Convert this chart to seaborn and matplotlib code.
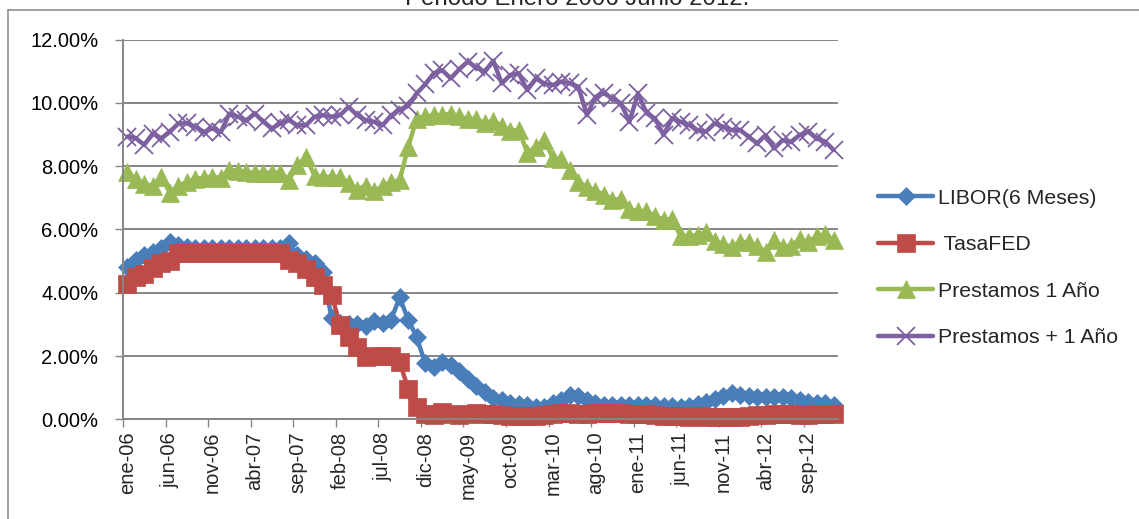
import numpy as np
import pandas as pd
import matplotlib
matplotlib.use("Agg")
import matplotlib.pyplot as plt
from matplotlib.lines import Line2D
from matplotlib.ticker import FixedLocator, FuncFormatter
import seaborn as sns

# Monthly rates in percent, ene-06 .. dic-12 (84 months)
libor_6m = [
    4.82, 5.03, 5.19, 5.30, 5.40, 5.60, 5.52, 5.45, 5.42, 5.42, 5.40, 5.40,
    5.42, 5.40, 5.40, 5.42, 5.42, 5.42, 5.42, 5.57, 5.20, 5.05, 4.95, 4.65,
    3.20, 3.05, 3.00, 3.00, 2.95, 3.12, 3.05, 3.15, 3.85, 3.15, 2.60, 1.77,
    1.65, 1.80, 1.72, 1.52, 1.26, 1.06, 0.85, 0.68, 0.60, 0.52, 0.48, 0.45,
    0.40, 0.40, 0.50, 0.62, 0.76, 0.75, 0.62, 0.50, 0.46, 0.46, 0.46, 0.46,
    0.46, 0.46, 0.44, 0.42, 0.41, 0.40, 0.43, 0.48, 0.55, 0.64, 0.74, 0.82,
    0.77, 0.74, 0.72, 0.72, 0.72, 0.72, 0.66, 0.60, 0.54, 0.50, 0.52, 0.45,
]
tasa_fed = [
    4.29, 4.49, 4.59, 4.79, 4.94, 4.99, 5.24, 5.25, 5.25, 5.25, 5.25, 5.24,
    5.25, 5.26, 5.26, 5.25, 5.25, 5.25, 5.26, 5.02, 4.94, 4.76, 4.49, 4.24,
    3.94, 2.98, 2.61, 2.28, 1.98, 2.00, 2.01, 2.00, 1.81, 0.97, 0.39, 0.16,
    0.15, 0.22, 0.18, 0.15, 0.18, 0.21, 0.16, 0.16, 0.15, 0.12, 0.12, 0.12,
    0.11, 0.13, 0.16, 0.20, 0.20, 0.18, 0.18, 0.19, 0.19, 0.19, 0.19, 0.18,
    0.17, 0.16, 0.14, 0.10, 0.09, 0.09, 0.07, 0.10, 0.08, 0.07, 0.08, 0.07,
    0.08, 0.10, 0.13, 0.14, 0.16, 0.16, 0.16, 0.13, 0.14, 0.16, 0.16, 0.16,
]
prestamos_1 = [
    7.81, 7.58, 7.45, 7.36, 7.66, 7.16, 7.38, 7.50, 7.60, 7.63, 7.66, 7.63,
    7.89, 7.84, 7.81, 7.79, 7.79, 7.79, 7.79, 7.57, 8.02, 8.28, 7.70, 7.66,
    7.66, 7.66, 7.47, 7.26, 7.38, 7.20, 7.37, 7.50, 7.55, 8.60, 9.50, 9.57,
    9.60, 9.60, 9.66, 9.57, 9.49, 9.49, 9.35, 9.44, 9.26, 9.10, 9.15, 8.42,
    8.61, 8.82, 8.26, 8.22, 7.89, 7.50, 7.34, 7.22, 7.10, 6.94, 6.96, 6.63,
    6.58, 6.58, 6.42, 6.30, 6.33, 5.79, 5.79, 5.82, 5.91, 5.63, 5.54, 5.44,
    5.60, 5.60, 5.49, 5.28, 5.66, 5.44, 5.49, 5.70, 5.61, 5.79, 5.84, 5.66,
]
prestamos_mas_1 = [
    8.93, 8.88, 8.67, 9.03, 8.88, 9.08, 9.35, 9.35, 9.24, 9.08, 9.19, 9.08,
    9.66, 9.56, 9.45, 9.66, 9.40, 9.19, 9.35, 9.45, 9.29, 9.29, 9.56, 9.61,
    9.56, 9.61, 9.87, 9.61, 9.45, 9.40, 9.29, 9.60, 9.78, 9.90, 10.30, 10.58,
    10.93, 11.03, 10.77, 11.06, 11.30, 11.12, 10.98, 11.33, 10.61, 10.88, 10.93, 10.40,
    10.77, 10.61, 10.56, 10.67, 10.61, 10.51, 9.61, 10.19, 10.30, 10.14, 9.98, 9.40,
    10.30, 9.67, 9.51, 8.98, 9.51, 9.40, 9.30, 9.14, 9.09, 9.35, 9.24, 9.14,
    9.14, 8.93, 8.72, 8.98, 8.56, 8.82, 8.77, 8.98, 9.09, 8.88, 8.77, 8.51,
]
tick_labels = ["ene-06", "jun-06", "nov-06", "abr-07", "sep-07", "feb-08",
               "jul-08", "dic-08", "may-09", "oct-09", "mar-10", "ago-10",
               "ene-11", "jun-11", "nov-11", "abr-12", "sep-12"]
series_names = ["LIBOR(6 Meses)", " TasaFED", "Prestamos 1 Año", "Prestamos + 1 Año"]
title_text = "Periodo Enero 2006 Junio 2012."

month_idx = np.arange(len(libor_6m))
df = pd.DataFrame({
    "mes": month_idx,
    series_names[0]: libor_6m,
    series_names[1]: tasa_fed,
    series_names[2]: prestamos_1,
    series_names[3]: prestamos_mas_1,
})

sns.set_style("white")
plt.rcParams["font.family"] = ["Liberation Sans", "DejaVu Sans"]

W, H = 1139, 519
fig = plt.figure(figsize=(W / 100, H / 100), dpi=100)
ax = fig.add_axes([123 / W, (H - 419.3) / H, 715 / W, (419.3 - 39.5) / H])

grey = "#868686"
styles = [
    dict(color="#4A7EBB", marker="D", markersize=9.2, markeredgewidth=0.5),
    dict(color="#BE4B48", marker="s", markersize=13.0, markeredgewidth=0.5),
    dict(color="#98B954", marker="^", markersize=13.5, markeredgewidth=0.5),
    dict(color="#7D60A0", marker="x", markersize=13.5, markeredgewidth=1.3),
]
for name, st in zip(series_names, styles):
    sns.lineplot(data=df, x="mes", y=name, ax=ax, label=name,
                 linewidth=3.2, color=st["color"], marker=st["marker"],
                 markersize=st["markersize"], markeredgewidth=st["markeredgewidth"],
                 markeredgecolor=st["color"], markerfacecolor=st["color"],
                 clip_on=False)

ax.set_xlim(-0.5, len(month_idx) - 0.5)
ax.set_ylim(0, 12)
ax.set_xlabel("")
ax.set_ylabel("")

# y axis: percentage labels and horizontal gridlines
ax.set_yticks(np.arange(0, 13, 2))
ax.yaxis.set_major_formatter(FuncFormatter(lambda v, p: f"{v:.2f}%"))
ax.yaxis.grid(True, color=grey, linewidth=1.4)
ax.xaxis.grid(False)
ax.tick_params(axis="y", direction="out", length=5.8, width=1.0, color=grey,
               pad=12, labelsize=14.5, labelcolor="black", left=True)

# x axis: labels every 5 months, tick marks on the category boundaries
ax.set_xticks(np.arange(0, len(month_idx) - 3, 5))
ax.set_xticklabels(tick_labels, rotation=90)
ax.xaxis.set_minor_locator(FixedLocator(np.arange(-0.5, len(month_idx) - 3, 5)))
ax.tick_params(axis="x", which="major", length=0, pad=9, labelsize=14.5)
ax.tick_params(axis="x", which="minor", direction="out", length=5.8, width=1.0,
               color=grey, bottom=True)

for side in ["top", "right"]:
    ax.spines[side].set_visible(False)
for side in ["left", "bottom"]:
    ax.spines[side].set_color(grey)
    ax.spines[side].set_linewidth(1.4)
ax.set_axisbelow(True)

handles, labels = ax.get_legend_handles_labels()
ax.get_legend().remove()
fig.legend(handles, labels, loc="center left",
           bbox_to_anchor=(878 / W, 1 - 268 / H), frameon=False,
           fontsize=15.3, handlelength=2.6, handletextpad=0.22,
           labelspacing=1.3, borderpad=0, borderaxespad=0, numpoints=1)

# chart frame and the title sitting at its top edge
fig.add_artist(Line2D([8 / W, 8 / W], [0, 1 - 10 / H], transform=fig.transFigure,
                      color=grey, linewidth=1.1))
fig.add_artist(Line2D([8 / W, 1], [1 - 10 / H, 1 - 10 / H], transform=fig.transFigure,
                      color=grey, linewidth=1.1))
fig.text(577 / W, 1 - 5 / H, title_text, ha="center", va="baseline", fontsize=17.3)

fig.savefig("out.png", dpi=100, facecolor="white")
